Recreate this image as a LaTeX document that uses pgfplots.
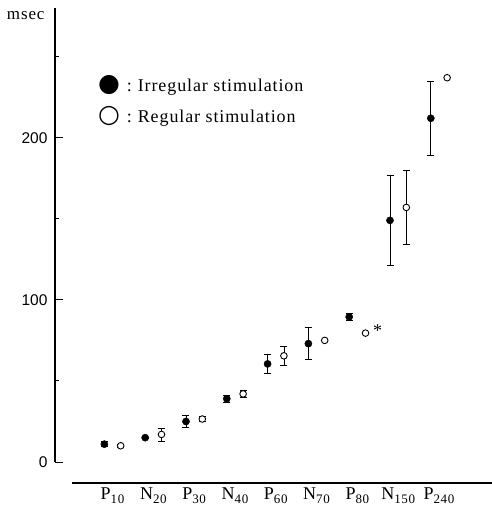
\documentclass[border=0pt]{standalone}
\usepackage{fontspec}
\setmainfont{Liberation Serif}
\newfontfamily\wide[LetterSpace=5]{Liberation Serif}
\newfontfamily\numfont{Liberation Sans}
\newfontfamily\sym{DejaVu Sans}
\usepackage{pgfplots}
\pgfplotsset{compat=1.18}

\newcommand{\sub}[1]{\raisebox{-0.45ex}{\fontsize{13}{14}\selectfont #1}}
\newcommand{\legsym}[1]{{\sym\fontsize{25}{25}\selectfont #1}\hspace{7pt}:\hspace{6pt}}

% mean latency, sd
\pgfplotstableread{
x     y      e
-0.2  11     1.5
0.8   15     0.5
1.8   25     3.5
2.8   39     2
3.8   60.5   6
4.8   73     10
5.8   89.5   2
6.8   149    28
7.8   212    23
}\irregular
\pgfplotstableread{
x     y      e
0.2   10     1
1.2   17     4
2.2   26.5   1.5
3.2   42     2
4.2   65.5   6
5.2   75     0
6.2   79.5   0
7.2   157    23
8.2   237    0
}\regular

\begin{document}
\begin{tikzpicture}
\begin{axis}[
  scale only axis,
  width=437pt, height=454pt,
  xmin=-1.41, xmax=9.3,
  ymin=0, ymax=280,
  clip=false,
  axis y line=left,
  axis x line=bottom,
  x axis line style={draw=none},
  y axis line style={-, line width=1.1pt},
  xtick={0,...,8},
  xticklabels={P\sub{10},N\sub{20},P\sub{30},N\sub{40},P\sub{60},N\sub{70},P\sub{80},N\sub{150},P\sub{240}},
  xtick style={draw=none},
  xticklabel style={yshift=-22pt, font=\wide\fontsize{18}{20}\selectfont},
  ytick={0,100,200},
  minor ytick={50,150,250},
  yticklabel style={xshift=-4pt, font=\numfont\fontsize{15.5}{18}\selectfont},
  tick align=inside,
  major tick length=8pt,
  minor tick length=4pt,
  tick style={black, line width=0.9pt},
  /pgf/number format/assume math mode=true,
  ylabel={msec},
  every axis y label/.style={at={(rel axis cs:0,1)}, anchor=base east, xshift=-7pt, yshift=-12pt, font=\wide\fontsize{17}{19}\selectfont},
  legend style={draw=none, fill=none, inner sep=0pt, at={(axis cs:-0.41,240)}, anchor=north west,
    font=\wide\fontsize{18}{20}\selectfont, row sep=10pt, column sep=0pt},
  legend cell align=left,
  errstyle/.style={forget plot, black, draw=none, mark=none,
    error bars/.cd, y dir=both, y explicit,
    error bar style={line width=0.7pt, draw=black},
    error mark options={rotate=90, mark size=3.5pt, line width=0.7pt, draw=black}},
]
\coordinate (O) at (axis cs:-1.41,0);

% error bars first, markers on top
\addplot[errstyle] table[x=x, y=y, y error=e] {\irregular};
\addplot[errstyle] table[x=x, y=y, y error=e] {\regular};

\addplot[black, only marks, mark=*, mark size=3.6pt, legend image code/.code={}]
  table[x=x, y=y] {\irregular};
\addlegendentry{\legsym{●}Irregular stimulation}

\addplot[black, only marks, mark=*, mark size=3.3pt, mark options={fill=white, line width=0.9pt},
  legend image code/.code={}]
  table[x=x, y=y] {\regular};
\addlegendentry{\legsym{○}Regular stimulation}

\addplot[black, line width=1.3pt, forget plot] coordinates {(-0.99,-13) (9.3,-13)};
\node[anchor=west, font=\fontsize{18}{20}\selectfont] at (axis cs:6.3,81) {*};
\end{axis}
\pgfresetboundingbox
\path ([shift={(-55pt,-49pt)}]O) rectangle ([shift={(437pt,462pt)}]O);
\end{tikzpicture}
\end{document}
